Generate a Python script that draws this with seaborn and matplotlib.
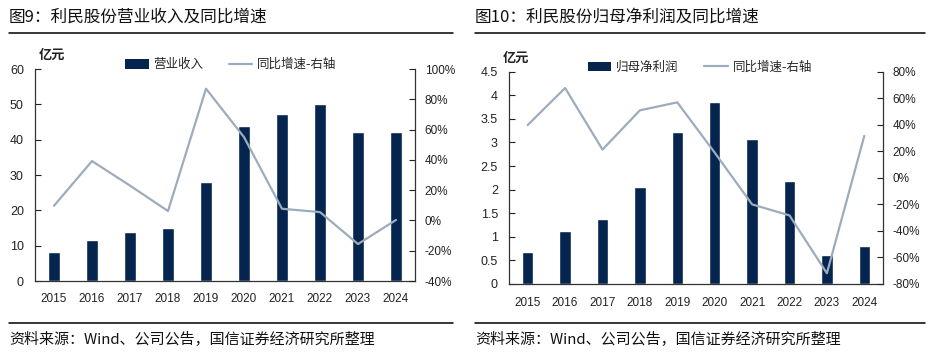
import numpy as np
import pandas as pd
import matplotlib
matplotlib.use("Agg")
import matplotlib.pyplot as plt
from matplotlib.lines import Line2D
from matplotlib.patches import Patch
import seaborn as sns

years = ["2015", "2016", "2017", "2018", "2019", "2020", "2021", "2022", "2023", "2024"]
revenue = [8.2, 11.5, 14.0, 14.9, 28.1, 43.9, 47.3, 50.1, 42.2, 42.3]
revenue_yoy = [9.7, 39.2, 23.0, 6.2, 87.0, 55.0, 7.7, 5.5, -15.6, 0.3]
profit = [0.68, 1.12, 1.375, 2.06, 3.22, 3.86, 3.08, 2.18, 0.61, 0.80]
profit_yoy = [39.8, 67.7, 21.3, 50.9, 56.9, 19.0, -20.0, -28.3, -71.9, 31.6]

left_ticks1 = [0, 10, 20, 30, 40, 50, 60]
left_labels1 = ["0", "10", "20", "30", "40", "50", "60"]
right_ticks1 = [-40, -20, 0, 20, 40, 60, 80, 100]
right_labels1 = ["-40%", "-20%", "0%", "20%", "40%", "60%", "80%", "100%"]
left_ticks2 = [0, 0.5, 1, 1.5, 2, 2.5, 3, 3.5, 4, 4.5]
left_labels2 = ["0", "0.5", "1", "1.5", "2", "2.5", "3", "3.5", "4", "4.5"]
right_ticks2 = [-80, -60, -40, -20, 0, 20, 40, 60, 80]
right_labels2 = ["-80%", "-60%", "-40%", "-20%", "0%", "20%", "40%", "60%", "80%"]

title1 = "图9：利民股份营业收入及同比增速"
title2 = "图10：利民股份归母净利润及同比增速"
bar_name1 = "营业收入"
bar_name2 = "归母净利润"
line_name = "同比增速-右轴"
unit = "亿元"
source = "资料来源：Wind、公司公告，国信证券经济研究所整理"

sns.set_theme(style="white")
plt.rcParams["font.family"] = ["Liberation Sans", "Noto Sans CJK SC", "DejaVu Sans"]
plt.rcParams["axes.unicode_minus"] = False

BAR = "#05254F"
LINE = "#9DACBD"
W, H = 937, 352
fig = plt.figure(figsize=(W / 100, H / 100), dpi=100)
fig.patch.set_facecolor("white")


def fx(px):
    return px / W


def fy(py):
    return 1 - py / H


def panel(rect, bars, yoy, lt, ll, rt, rl, bar_name, unit_x, unit_y, leg_x):
    ax = fig.add_axes(rect)
    df = pd.DataFrame({"year": years, "value": bars})
    sns.barplot(data=df, x="year", y="value", color=BAR, width=0.31,
                saturation=1, ax=ax, zorder=2)
    ax.set_xlim(-0.5, len(years) - 0.5)
    ax.set_ylim(lt[0], lt[-1])
    ax.set_yticks(lt)
    ax.set_yticklabels(ll)
    ax.set_xlabel("")
    ax.set_ylabel("")
    ax.set_xticks(np.arange(len(years)))
    ax.set_xticklabels(years)
    ax.set_xticks(np.arange(len(years) + 1) - 0.5, minor=True)
    ax.tick_params(axis="x", which="major", length=0, pad=9, labelsize=8.5, colors="#222222")
    ax.tick_params(axis="x", which="minor", direction="in", length=4, width=0.8, color="#333333")
    ax.tick_params(axis="y", direction="in", length=4, width=0.8, pad=8, labelsize=9,
                   colors="#222222", left=True)
    for s in ["top", "right"]:
        ax.spines[s].set_visible(False)
    for s in ["left", "bottom"]:
        ax.spines[s].set_color("#333333")
        ax.spines[s].set_linewidth(0.9)

    ax2 = ax.twinx()
    ldf = pd.DataFrame({"pos": np.arange(len(years)), "yoy": yoy})
    sns.lineplot(data=ldf, x="pos", y="yoy", color=LINE, linewidth=1.6, ax=ax2)
    ax2.set_xlim(-0.5, len(years) - 0.5)
    ax2.set_ylim(rt[0], rt[-1])
    ax2.set_yticks(rt)
    ax2.set_yticklabels(rl)
    ax2.set_ylabel("")
    ax2.tick_params(axis="y", direction="in", length=4, width=0.8, pad=7, labelsize=8.5,
                    colors="#222222", right=True)
    for s in ["top", "left", "bottom"]:
        ax2.spines[s].set_visible(False)
    ax2.spines["right"].set_color("#333333")
    ax2.spines["right"].set_linewidth(0.9)

    handles = [Patch(facecolor=BAR, edgecolor="none"),
               Line2D([0], [0], color=LINE, linewidth=1.6)]
    ax2.legend(handles, [bar_name, line_name], loc="center", ncol=2,
               bbox_to_anchor=(leg_x, 1.02), frameon=False,
               handlelength=1.9, handleheight=0.8, columnspacing=2.0, handletextpad=0.4,
               prop={"family": ["Noto Sans CJK SC"], "size": 9})
    fig.text(fx(unit_x), fy(unit_y), unit, fontsize=9.5, fontweight="bold",
             family=["Noto Sans CJK SC"], va="center", ha="left", color="#222222")
    return ax


panel([fx(35), fy(281), fx(380), 212 / H], revenue, revenue_yoy,
      left_ticks1, left_labels1, right_ticks1, right_labels1, bar_name1, 39, 55, 0.515)
panel([fx(509), fy(284), fx(374), 212.3 / H], profit, profit_yoy,
      left_ticks2, left_labels2, right_ticks2, right_labels2, bar_name2, 503, 58, 0.51)

for x0, x1, t in [(9, 453, title1), (475, 925, title2)]:
    fig.text(fx(x0), fy(17), t, fontsize=12, family=["Noto Sans CJK SC"],
             va="center", ha="left", color="#111111")
    fig.add_artist(Line2D([fx(x0), fx(x1)], [fy(33), fy(33)], color="black", linewidth=1.1))
    fig.add_artist(Line2D([fx(x0), fx(x1)], [fy(323), fy(323)], color="black", linewidth=1.1))
    fig.text(fx(x0), fy(340), source, fontsize=10.8, family=["Noto Sans CJK SC"],
             va="center", ha="left", color="#111111")

fig.savefig("out.png", dpi=100, facecolor="white")
